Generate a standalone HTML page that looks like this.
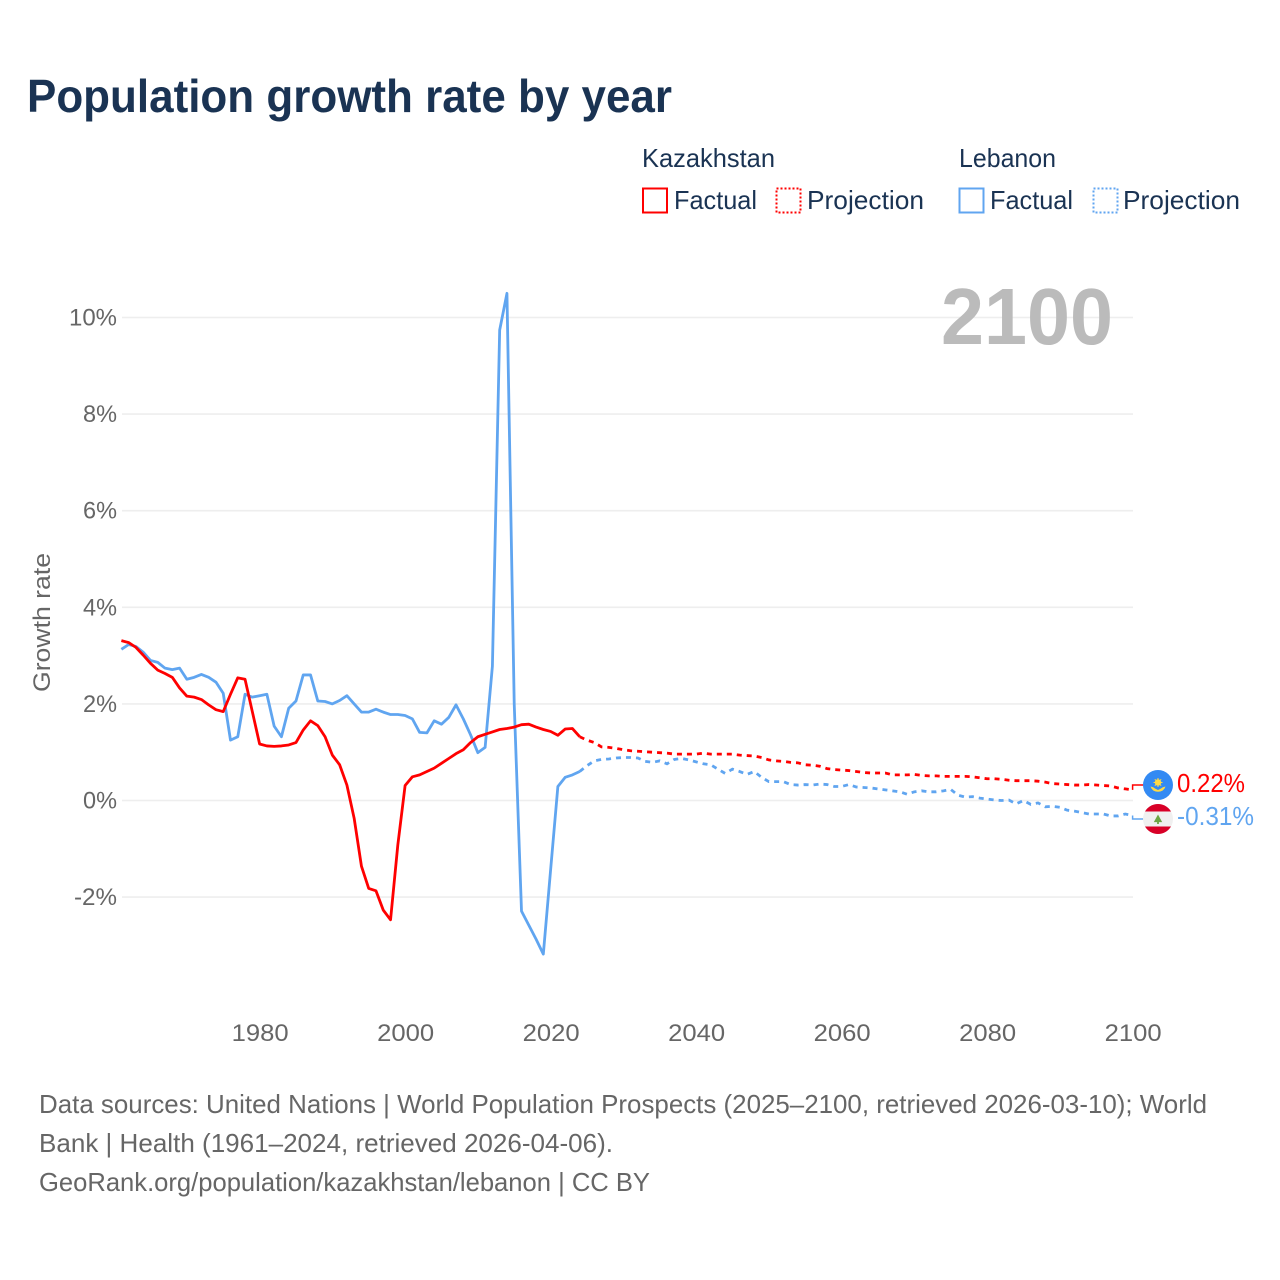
<!DOCTYPE html>
<html lang="en">
<head>
<meta charset="utf-8">
<title>Population growth rate by year</title>
<style>
html,body{margin:0;padding:0;background:#fff;width:1280px;height:1280px;overflow:hidden}
svg{display:block}
text{font-family:"Liberation Sans",sans-serif}
</style>
</head>
<body>
<svg id="chart" xmlns="http://www.w3.org/2000/svg" width="1280" height="1280" viewBox="0 0 1280 1280">
  <text x="27" y="112" font-size="46" font-weight="700" fill="#1a3353" textLength="645" lengthAdjust="spacingAndGlyphs">Population growth rate by year</text>

  <g font-size="26" fill="#1a3353">
    <text x="642" y="167" textLength="133" lengthAdjust="spacingAndGlyphs">Kazakhstan</text>
    <text x="959" y="167" textLength="97" lengthAdjust="spacingAndGlyphs">Lebanon</text>
    <g>
      <rect x="643" y="188.5" width="24" height="24" fill="none" stroke="#ff0000" stroke-width="2"/>
      <text x="674" y="209" textLength="83" lengthAdjust="spacingAndGlyphs">Factual</text>
    </g>
    <g>
      <rect x="776.5" y="188.5" width="24" height="24" fill="none" stroke="#ff0000" stroke-width="2" stroke-dasharray="2 2"/>
      <text x="807" y="209" textLength="117" lengthAdjust="spacingAndGlyphs">Projection</text>
    </g>
    <g>
      <rect x="959.5" y="188.5" width="24" height="24" fill="none" stroke="#60a5f0" stroke-width="2"/>
      <text x="990" y="209" textLength="83" lengthAdjust="spacingAndGlyphs">Factual</text>
    </g>
    <g>
      <rect x="1093.5" y="188.5" width="24" height="24" fill="none" stroke="#60a5f0" stroke-width="2" stroke-dasharray="2 2"/>
      <text x="1123" y="209" textLength="117" lengthAdjust="spacingAndGlyphs">Projection</text>
    </g>
  </g>

  <g id="grid"></g>
  <text x="941" y="344" font-size="80" font-weight="700" fill="#bbbbbb" textLength="172" lengthAdjust="spacingAndGlyphs">2100</text>
  <g id="yticks"></g>
  <g id="xticks"></g>
  <text transform="translate(50,692) rotate(-90)" font-size="24" fill="#666666" textLength="139" lengthAdjust="spacingAndGlyphs">Growth rate</text>
  <g id="series"></g>

  <g id="end-kz"></g>
  <g id="end-lb"></g>

  <g font-size="26" fill="#666666">
    <text x="39" y="1113" textLength="1168" lengthAdjust="spacingAndGlyphs">Data sources: United Nations | World Population Prospects (2025–2100, retrieved 2026-03-10); World</text>
    <text x="39" y="1152" textLength="574" lengthAdjust="spacingAndGlyphs">Bank | Health (1961–2024, retrieved 2026-04-06).</text>
    <text x="39" y="1191" textLength="611" lengthAdjust="spacingAndGlyphs">GeoRank.org/population/kazakhstan/lebanon | CC BY</text>
  </g>
</svg>
<script>
const xTickYears = [1980, 2000, 2020, 2040, 2060, 2080, 2100];
const yTickValues = [-2, 0, 2, 4, 6, 8, 10];
const factualStartYear = 1961;
const projectionStartYear = 2024;

const kazakhstanFactual = [3.31,3.27,3.17,3.01,2.84,2.70,2.63,2.55,2.33,2.16,2.14,2.09,1.98,1.88,1.84,2.20,2.54,2.51,1.84,1.17,
  1.13,1.12,1.13,1.15,1.20,1.46,1.65,1.55,1.32,0.94,0.74,0.32,-0.37,-1.36,-1.82,-1.87,-2.27,-2.47,-0.92,0.31,
  0.49,0.53,0.60,0.67,0.77,0.87,0.97,1.05,1.20,1.32,1.37,1.42,1.47,1.49,1.52,1.57,1.58,1.52,1.47,1.43,
  1.35,1.48,1.49,1.32];
const kazakhstanProjection = [1.32,1.25,1.20,1.11,1.10,1.08,1.05,1.03,1.02,1.01,1.00,0.99,0.98,0.96,0.96,0.96,0.96,0.98,0.96,0.96,
  0.96,0.96,0.94,0.93,0.92,0.89,0.84,0.82,0.81,0.79,0.78,0.74,0.73,0.71,0.66,0.64,0.63,0.62,0.60,0.58,
  0.57,0.57,0.57,0.53,0.53,0.53,0.54,0.52,0.51,0.51,0.50,0.50,0.50,0.50,0.49,0.47,0.45,0.45,0.44,0.42,
  0.41,0.41,0.41,0.40,0.38,0.35,0.34,0.33,0.32,0.32,0.33,0.32,0.31,0.30,0.26,0.24,0.22];
const lebanonFactual = [3.13,3.23,3.19,3.07,2.90,2.86,2.74,2.71,2.74,2.51,2.55,2.61,2.55,2.45,2.22,1.25,1.32,2.20,2.14,2.17,
  2.20,1.54,1.32,1.91,2.06,2.60,2.60,2.06,2.05,2.00,2.07,2.17,2.00,1.83,1.83,1.89,1.83,1.78,1.78,1.76,
  1.69,1.41,1.40,1.65,1.58,1.72,1.98,1.69,1.36,0.99,1.10,2.78,9.74,10.50,2.00,-2.29,-2.58,-2.87,-3.18,-1.44,
  0.29,0.48,0.53,0.60];
const lebanonProjection = [0.60,0.72,0.82,0.85,0.86,0.88,0.89,0.89,0.88,0.81,0.79,0.82,0.76,0.85,0.87,0.84,0.80,0.76,0.74,0.65,
  0.56,0.65,0.60,0.54,0.60,0.48,0.39,0.39,0.39,0.33,0.32,0.33,0.32,0.34,0.33,0.29,0.29,0.33,0.28,0.27,
  0.26,0.24,0.22,0.20,0.18,0.13,0.18,0.20,0.18,0.18,0.20,0.23,0.11,0.07,0.08,0.05,0.03,0.01,0.00,0.01,
  -0.07,0.00,-0.08,-0.05,-0.13,-0.12,-0.14,-0.20,-0.22,-0.25,-0.28,-0.28,-0.28,-0.32,-0.32,-0.28,-0.31];

const NS = 'http://www.w3.org/2000/svg';
const xScale = year => 1132.6 - (2100 - year) * 7.275;
const yScale = value => 800.5 - value * 48.3;
const RED = '#ff0000';
const BLUE = '#60a5f0';
const LINE_WIDTH = 2.8;

function make(tag, attrs, parent, content) {
  const el = document.createElementNS(NS, tag);
  for (const k in attrs) el.setAttribute(k, attrs[k]);
  if (content !== undefined) el.textContent = content;
  parent.appendChild(el);
  return el;
}

const yLabelWidth = s => [...s].reduce((w, c) => w + (c === '%' ? 20 : c === '-' ? 9 : 14), 0);

const gridGroup = document.getElementById('grid');
const yTickGroup = document.getElementById('yticks');
yTickValues.forEach(v => {
  const line = make('line', {x1: 122, x2: 1133, y1: yScale(v), y2: yScale(v), stroke: '#eeeeee', 'stroke-width': 1.6}, gridGroup);
  
  
  const label = v + '%';
  const t = make('text', {x: 117, y: yScale(v) + 8, 'text-anchor': 'end', 'font-size': 24, fill: '#666666',
    textLength: yLabelWidth(label), lengthAdjust: 'spacingAndGlyphs'}, yTickGroup, label);
  
  
});

const xTickGroup = document.getElementById('xticks');
xTickYears.forEach(y => {
  const t = make('text', {x: xScale(y) + 0.6, y: 1041, 'text-anchor': 'middle', 'font-size': 24, fill: '#666666',
    textLength: 57, lengthAdjust: 'spacingAndGlyphs'}, xTickGroup, String(y));
  
  
});

function pathFrom(values, startYear) {
  return values.map((v, i) => (i ? 'L' : 'M') + xScale(startYear + i).toFixed(2) + ' ' + yScale(v).toFixed(2)).join(' ');
}
const seriesGroup = document.getElementById('series');

const lebFactualLine = make('path', {d: pathFrom(lebanonFactual, factualStartYear), fill: 'none', stroke: BLUE, 'stroke-width': LINE_WIDTH, 'stroke-linejoin': 'round'}, seriesGroup);



const lebProjLine = make('path', {d: pathFrom(lebanonProjection, projectionStartYear), fill: 'none', stroke: BLUE, 'stroke-width': LINE_WIDTH, 'stroke-dasharray': '5 5'}, seriesGroup);



const kazFactualLine = make('path', {d: pathFrom(kazakhstanFactual, factualStartYear), fill: 'none', stroke: RED, 'stroke-width': LINE_WIDTH, 'stroke-linejoin': 'round'}, seriesGroup);



const kazProjLine = make('path', {d: pathFrom(kazakhstanProjection, projectionStartYear), fill: 'none', stroke: RED, 'stroke-width': LINE_WIDTH, 'stroke-dasharray': '5 5'}, seriesGroup);



/* End-of-line markers: pushed apart around their midpoint so flags never overlap */
const kzEnd = kazakhstanProjection[kazakhstanProjection.length - 1];
const lbEnd = lebanonProjection[lebanonProjection.length - 1];
const kzRaw = yScale(kzEnd), lbRaw = yScale(lbEnd);
const mid = (kzRaw + lbRaw) / 2 - 0.7;
const kzY = Math.min(kzRaw, mid - 17), lbY = Math.max(lbRaw, mid + 17);
const endX = xScale(2100);

const kzGroup = document.getElementById('end-kz');
const kzConn = make('path', {d: `M${endX} ${kzRaw} L${endX} ${kzY} L1145 ${kzY}`, fill: 'none', stroke: RED, 'stroke-width': 1.5}, kzGroup);


const kzFlag = make('g', {transform: `translate(1158,${kzY})`}, kzGroup);


make('circle', {r: 15, fill: '#338af3'}, kzFlag);
make('circle', {cy: -2.5, r: 3.2, fill: '#ffda44'}, kzFlag);
[0, 45, 90, 135, 180, 225, 270, 315].forEach(a => {
  make('line', {x1: 0, y1: -2.5, x2: 0, y2: -7, stroke: '#ffda44', 'stroke-width': 1, transform: `rotate(${a} 0 -2.5)`}, kzFlag);
});
make('path', {d: 'M-7.5 1.5 Q-4.5 2 -3 3.5 L0 5 L3 3.5 Q4.5 2 7.5 1.5 Q6 6.5 0 6.8 Q-6 6.5 -7.5 1.5 Z', fill: '#ffda44'}, kzFlag);
const kzLabel = make('text', {x: 1177, y: kzY + 7, 'font-size': 26, fill: RED, textLength: 68, lengthAdjust: 'spacingAndGlyphs'}, kzGroup, kzEnd.toFixed(2) + '%');



const lbGroup = document.getElementById('end-lb');
const lbConn = make('path', {d: `M${endX} ${lbRaw} L${endX} ${lbY} L1145 ${lbY}`, fill: 'none', stroke: BLUE, 'stroke-width': 1.5}, lbGroup);


const lbFlag = make('g', {transform: `translate(1158,${lbY})`}, lbGroup);


make('circle', {r: 15, fill: '#f0f0f0'}, lbFlag);
make('path', {d: 'M-13 -7.5 A15 15 0 0 1 13 -7.5 Z', fill: '#d80027'}, lbFlag);
make('path', {d: 'M-13 7.5 A15 15 0 0 0 13 7.5 Z', fill: '#d80027'}, lbFlag);
make('path', {d: 'M0 -4.5 L4.2 3.2 L0.9 3.2 L0.9 5 L-0.9 5 L-0.9 3.2 L-4.2 3.2 Z', fill: '#6da544'}, lbFlag);
const lbLabel = make('text', {x: 1177, y: lbY + 6, 'font-size': 26, fill: BLUE, textLength: 77, lengthAdjust: 'spacingAndGlyphs'}, lbGroup, lbEnd.toFixed(2) + '%');


</script>
</body>
</html>
